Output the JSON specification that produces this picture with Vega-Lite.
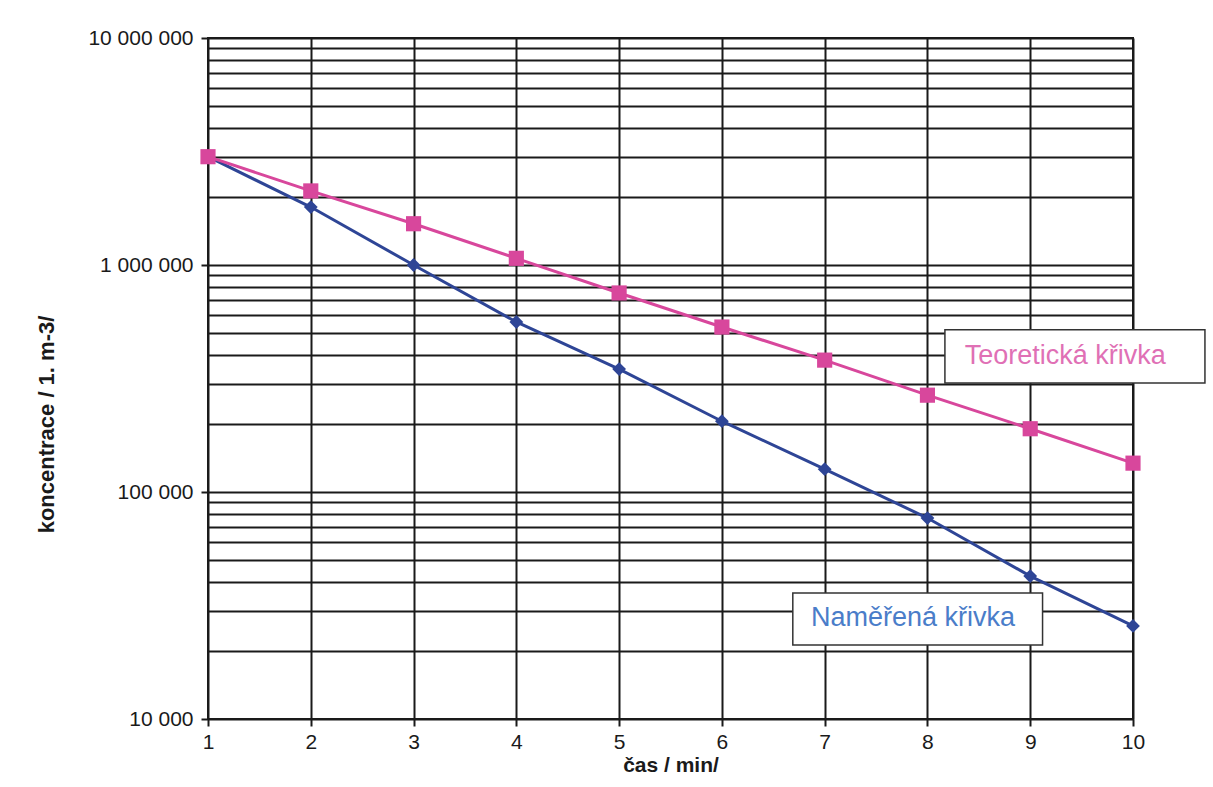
{
  "$schema": "https://vega.github.io/schema/vega-lite/v6.json",
  "width": 925,
  "height": 681,
  "autosize": {"type": "none"},
  "padding": {"left": 208, "top": 38, "right": 80, "bottom": 68},
  "background": "white",
  "config": {
    "view": {"stroke": "#1a1a1a", "strokeWidth": 2},
    "font": "Liberation Sans"
  },
  "datasets": {
    "series": [
      {"serie": "Naměřená křivka", "cas": 1, "konc": 3000000},
      {"serie": "Naměřená křivka", "cas": 2, "konc": 1800000},
      {"serie": "Naměřená křivka", "cas": 3, "konc": 1000000},
      {"serie": "Naměřená křivka", "cas": 4, "konc": 561000},
      {"serie": "Naměřená křivka", "cas": 5, "konc": 348000},
      {"serie": "Naměřená křivka", "cas": 6, "konc": 205000},
      {"serie": "Naměřená křivka", "cas": 7, "konc": 126000},
      {"serie": "Naměřená křivka", "cas": 8, "konc": 76800},
      {"serie": "Naměřená křivka", "cas": 9, "konc": 42600},
      {"serie": "Naměřená křivka", "cas": 10, "konc": 25700},
      {"serie": "Teoretická křivka", "cas": 1, "konc": 3000000},
      {"serie": "Teoretická křivka", "cas": 2, "konc": 2120000},
      {"serie": "Teoretická křivka", "cas": 3, "konc": 1520000},
      {"serie": "Teoretická křivka", "cas": 4, "konc": 1070000},
      {"serie": "Teoretická křivka", "cas": 5, "konc": 753000},
      {"serie": "Teoretická křivka", "cas": 6, "konc": 533000},
      {"serie": "Teoretická křivka", "cas": 7, "konc": 381000},
      {"serie": "Teoretická křivka", "cas": 8, "konc": 267000},
      {"serie": "Teoretická křivka", "cas": 9, "konc": 190000},
      {"serie": "Teoretická křivka", "cas": 10, "konc": 134000}
    ],
    "labels": [
      {"serie": "Teoretická křivka", "x1": 8.17, "x2": 10.7, "y1": 518000, "y2": 302000, "tx": 9.34, "ty": 397000},
      {"serie": "Naměřená křivka", "x1": 6.69, "x2": 9.12, "y1": 35900, "y2": 21200, "tx": 7.86, "ty": 27900}
    ]
  },
  "layer": [
    {
      "data": {"name": "series"},
      "mark": {"type": "line", "strokeWidth": 3},
      "encoding": {
        "x": {
          "field": "cas", "type": "quantitative",
          "scale": {"domain": [1, 10], "nice": false, "zero": false},
          "axis": {
            "values": [1, 2, 3, 4, 5, 6, 7, 8, 9, 10],
            "format": "d",
            "labelFlush": false,
            "grid": true, "gridColor": "#1a1a1a", "gridWidth": 2, "gridOpacity": 1,
            "domain": false,
            "tickColor": "#1a1a1a", "tickWidth": 2, "tickSize": 7,
            "labelFontSize": 21, "labelColor": "#1a1a1a", "labelPadding": 5,
            "title": "čas / min/", "titleFontSize": 21, "titleFontWeight": "bold",
            "titleColor": "#1a1a1a", "titlePadding": 2
          }
        },
        "y": {
          "field": "konc", "type": "quantitative",
          "scale": {"type": "log", "domain": [10000, 10000000], "nice": false},
          "axis": {
            "values": [10000, 20000, 30000, 40000, 50000, 60000, 70000, 80000, 90000,
                       100000, 200000, 300000, 400000, 500000, 600000, 700000, 800000, 900000,
                       1000000, 2000000, 3000000, 4000000, 5000000, 6000000, 7000000, 8000000, 9000000,
                       10000000],
            "labelExpr": "indexof([10000,100000,1000000,10000000], datum.value) >= 0 ? replace(replace(format(datum.value, ',d'), ',', ' '), ',', ' ') : ''",
            "labelFlush": false,
            "grid": true, "gridColor": "#1a1a1a", "gridWidth": 2, "gridOpacity": 1,
            "domain": false,
            "tickColor": "#1a1a1a", "tickWidth": 2, "tickSize": 7,
            "tickOpacity": {"condition": {"test": "indexof([10000,100000,1000000,10000000], datum.value) >= 0", "value": 1}, "value": 0},
            "labelFontSize": 21, "labelColor": "#1a1a1a", "labelPadding": 8,
            "title": "koncentrace / 1. m-3/", "titleFontSize": 22, "titleFontWeight": "bold",
            "titleColor": "#1a1a1a", "titleX": -150, "titleY": 386
          }
        },
        "color": {
          "field": "serie", "type": "nominal",
          "scale": {"domain": ["Naměřená křivka", "Teoretická křivka"], "range": ["#2E4596", "#D8479C"]},
          "legend": null
        }
      }
    },
    {
      "data": {"name": "series"},
      "mark": {"type": "point", "filled": true, "opacity": 1},
      "encoding": {
        "x": {"field": "cas", "type": "quantitative"},
        "y": {"field": "konc", "type": "quantitative"},
        "color": {
          "field": "serie", "type": "nominal",
          "scale": {"domain": ["Naměřená křivka", "Teoretická křivka"], "range": ["#2E4596", "#D8479C"]},
          "legend": null
        },
        "shape": {
          "field": "serie", "type": "nominal",
          "scale": {"domain": ["Naměřená křivka", "Teoretická křivka"], "range": ["diamond", "square"]},
          "legend": null
        },
        "size": {
          "field": "serie", "type": "nominal",
          "scale": {"domain": ["Naměřená křivka", "Teoretická křivka"], "range": [190, 230]},
          "legend": null
        }
      }
    },
    {
      "data": {"name": "labels"},
      "mark": {"type": "rect", "fill": "white", "stroke": "#333333", "strokeWidth": 1.5},
      "encoding": {
        "x": {"field": "x1", "type": "quantitative"},
        "x2": {"field": "x2"},
        "y": {"field": "y1", "type": "quantitative"},
        "y2": {"field": "y2"}
      }
    },
    {
      "data": {"name": "labels"},
      "mark": {"type": "text", "fontSize": 27, "align": "center", "baseline": "middle"},
      "encoding": {
        "x": {"field": "tx", "type": "quantitative"},
        "y": {"field": "ty", "type": "quantitative"},
        "text": {"field": "serie"},
        "color": {
          "field": "serie", "type": "nominal",
          "scale": {"domain": ["Naměřená křivka", "Teoretická křivka"], "range": ["#4A7DC9", "#E070B5"]},
          "legend": null
        }
      }
    }
  ],
  "resolve": {"scale": {"color": "independent"}}
}
